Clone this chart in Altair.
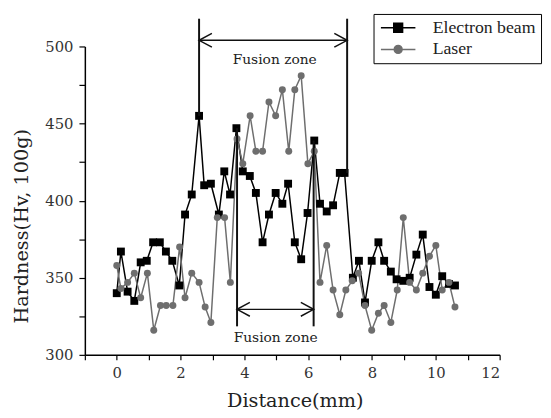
import altair as alt
import pandas as pd

# ---- data ----
eb_x = [0, 0.13, 0.34, 0.55, 0.75, 0.94, 1.14, 1.35, 1.54, 1.74, 1.96, 2.14, 2.35, 2.58,
        2.74, 2.95, 3.2, 3.37, 3.55, 3.75, 3.95, 4.17, 4.36, 4.57, 4.77, 4.98, 5.19, 5.37,
        5.58, 5.78, 5.98, 6.19, 6.37, 6.58, 6.78, 6.99, 7.14, 7.4, 7.59, 7.78, 7.99, 8.2,
        8.38, 8.59, 8.77, 8.98, 9.18, 9.39, 9.59, 9.8, 10.0, 10.2, 10.41, 10.6]
eb_y = [340, 367, 341, 335, 360, 361, 373, 373, 367, 361, 345, 391, 404, 455,
        410, 411, 391, 419, 404, 447, 419, 416, 405, 373, 391, 405, 398, 411,
        373, 362, 392, 439, 398, 393, 397, 418, 418, 350, 361, 334, 361, 373,
        361, 354, 349, 348, 350, 365, 378, 344, 339, 351, 346, 345]
laser_x = [0, 0.13, 0.34, 0.55, 0.75, 0.96, 1.16, 1.37, 1.55, 1.76, 1.97, 2.14, 2.35, 2.58,
           2.77, 2.95, 3.15, 3.38, 3.56, 3.77, 3.95, 4.18, 4.36, 4.57, 4.77, 4.98, 5.19, 5.39,
           5.58, 5.78, 5.99, 6.19, 6.37, 6.58, 6.78, 6.99, 7.18, 7.38, 7.58, 7.78, 7.99, 8.2,
           8.38, 8.59, 8.79, 8.98, 9.18, 9.39, 9.59, 9.8, 10.0, 10.2, 10.41, 10.6]
laser_y = [358, 343, 347, 353, 337, 353, 316, 332, 332, 332, 370, 337, 353, 347,
           331, 321, 389, 389, 347, 440, 424, 455, 432, 432, 464, 455, 472, 432,
           472, 481, 424, 432, 347, 371, 342, 326, 342, 348, 353, 332, 316, 327,
           332, 321, 342, 389, 347, 342, 353, 364, 371, 342, 347, 331]

series_names = ["Electron beam", "Laser"]
series_colors = ["#000000", "#6e6e6e"]

# fusion-zone annotations (data units)
outer_zone = [2.58, 7.22]
outer_line_from = [455, 418]
outer_line_to = 518
outer_arrow_y = 504
inner_zone = [3.77, 6.17]
inner_line_from = [447, 439]
inner_line_to = 318.5
inner_arrow_y = 329.5
label_text = ["Fusion zone", "Fusion zone"]
label_x = [4.95, 4.98]
label_y = [491, 311]

x_ticks = list(range(-1, 13))
y_ticks = list(range(300, 501, 25))

FONT = "DejaVu Serif"
LEGEND_FONT = "Liberation Serif"

df = pd.DataFrame({
    "x": eb_x + laser_x,
    "y": eb_y + laser_y,
    "series": [series_names[0]] * len(eb_x) + [series_names[1]] * len(laser_x),
})

xs = alt.Scale(domain=[-1, 12], nice=False)
ys = alt.Scale(domain=[300, 500], nice=False)

eb_path = "M-3.5,0H3.5M-0.9,-0.9H0.9V0.9H-0.9Z"
la_path = "M-3.5,0H3.5M0.8,0A0.8,0.8,0,1,1,-0.8,0A0.8,0.8,0,1,1,0.8,0Z"

legend = alt.Legend(
    title=None, orient="none", legendX=293, legendY=-33,
    strokeColor="black", padding=5, symbolSize=100, symbolOffset=11,
    labelOffset=26, labelFont=LEGEND_FONT, labelFontSize=18, labelColor="#222",
    rowPadding=4, symbolStrokeWidth=1.5, symbolOpacity=1,
)

xaxis = alt.Axis(values=x_ticks, labelExpr="datum.value % 2 === 0 ? datum.label : ''",
                 labelOverlap=False, title="Distance(mm)", grid=False,
                 titleBaseline="alphabetic", titleY=52, titleX=213)
yaxis = alt.Axis(values=y_ticks, labelExpr="datum.value % 50 === 0 ? datum.label : ''",
                 labelOverlap=False, title="Hardness(Hv, 100g)", grid=False,
                 titleX=-58, titleY=182, titleBaseline="alphabetic", tickSize=6)

X = alt.X("x:Q", scale=xs, axis=xaxis)
Y = alt.Y("y:Q", scale=ys, axis=yaxis)

base = alt.Chart(df)
eb = base.transform_filter(alt.datum.series == series_names[0])
la = base.transform_filter(alt.datum.series == series_names[1])

eb_line = eb.mark_line(strokeWidth=1.5, color=series_colors[0]).encode(x=X, y=Y)
la_line = la.mark_line(strokeWidth=1.5, color=series_colors[1]).encode(x=X, y=Y)
eb_points = eb.mark_point(filled=True, opacity=1, shape="square", size=64,
                          color=series_colors[0]).encode(x=X, y=Y)
la_points = la.mark_point(filled=True, opacity=1, shape="circle", size=50,
                          color=series_colors[1]).encode(x=X, y=Y)

# legend-carrying layer (its own marks are fully transparent)
legend_layer = base.mark_point(filled=True, strokeWidth=1.5, opacity=0).encode(
    x=X, y=Y,
    fill=alt.Fill("series:N", scale=alt.Scale(domain=series_names, range=series_colors), legend=legend),
    stroke=alt.Stroke("series:N", scale=alt.Scale(domain=series_names, range=series_colors), legend=legend),
    shape=alt.Shape("series:N", scale=alt.Scale(domain=series_names, range=[eb_path, la_path]), legend=legend),
)

vlines_df = pd.DataFrame({
    "x": outer_zone + inner_zone,
    "y1": outer_line_from + inner_line_from,
    "y2": [outer_line_to] * 2 + [inner_line_to] * 2,
})
vlines = alt.Chart(vlines_df).mark_rule(color="#111", strokeWidth=2).encode(
    x=alt.X("x:Q", scale=xs, axis=xaxis), y=alt.Y("y1:Q", scale=ys, axis=yaxis), y2="y2:Q")

arrows_df = pd.DataFrame({
    "x1": [outer_zone[0], inner_zone[0]],
    "x2": [outer_zone[1], inner_zone[1]],
    "y": [outer_arrow_y, inner_arrow_y],
})
arrow_lines = alt.Chart(arrows_df).mark_rule(color="#111", strokeWidth=1.5).encode(
    x=alt.X("x1:Q", scale=xs, axis=xaxis), x2="x2:Q", y=alt.Y("y:Q", scale=ys, axis=yaxis))
left_heads = alt.Chart(arrows_df).mark_point(
    shape="M2.6,-1.4L0,0L2.6,1.4", filled=False, size=100, color="#111", strokeWidth=1.5, opacity=1
).encode(x=alt.X("x1:Q", scale=xs, axis=xaxis), y=alt.Y("y:Q", scale=ys, axis=yaxis))
right_heads = alt.Chart(arrows_df).mark_point(
    shape="M-2.6,-1.4L0,0L-2.6,1.4", filled=False, size=100, color="#111", strokeWidth=1.5, opacity=1
).encode(x=alt.X("x2:Q", scale=xs, axis=xaxis), y=alt.Y("y:Q", scale=ys, axis=yaxis))

labels_df = pd.DataFrame({"t": label_text, "x": label_x, "y": label_y})
labels = alt.Chart(labels_df).mark_text(font=FONT, fontSize=14, color="#222").encode(
    x=alt.X("x:Q", scale=xs, axis=xaxis), y=alt.Y("y:Q", scale=ys, axis=yaxis), text="t:N")

chart = alt.layer(eb_line, la_line, eb_points, la_points, legend_layer, vlines, arrow_lines,
                  left_heads, right_heads, labels).properties(
    width=421, height=313,
    padding={"left": 78, "top": 36, "right": 44, "bottom": 58},
    autosize=alt.AutoSizeParams(type="none"),
).configure_view(stroke=None).configure_axis(
    domainColor="black", domainWidth=1.5, tickColor="black", tickWidth=1.2, tickSize=5,
    labelFont=FONT, labelFontSize=15, labelColor="#333", labelPadding=6, labelOverlap=False,
    titleFont=FONT, titleFontSize=19.5, titleFontWeight="normal", titleColor="#222",
)

chart.save("out.html", embed_options={"renderer": "svg", "actions": False})
